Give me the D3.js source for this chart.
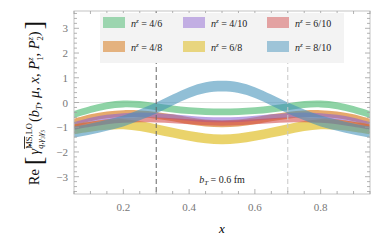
<!DOCTYPE html>
<html>
<head>
<meta charset="utf-8">
<script src="https://cdn.jsdelivr.net/npm/d3@7"></script>
<style>
  body { margin: 0; background: #fff; }
  svg { display: block; font-family: "Liberation Serif", "DejaVu Serif", serif; }
</style>
</head>
<body>
<div id="chart"></div>
<script>
// x grid of the bands
const xs = [0.05, 0.10, 0.15, 0.20, 0.25, 0.30, 0.35, 0.40, 0.45, 0.50,
            0.55, 0.60, 0.65, 0.70, 0.75, 0.80, 0.85, 0.90, 0.95];

const labels = ['4/6', '4/8', '4/10', '6/8', '6/10', '8/10'];
const colors = ['#3cb464', '#d46a00', '#8c62d2', '#dbb300', '#d24a4a', '#4191b9'];

// band centres
const c46  = [-0.48, -0.28, -0.13, -0.06, -0.08, -0.17, -0.26, -0.33, -0.37, -0.38, -0.37, -0.33, -0.26, -0.17, -0.08, -0.06, -0.13, -0.28, -0.48];
const c48  = [-0.80, -0.62, -0.50, -0.45, -0.46, -0.52, -0.62, -0.74, -0.83, -0.86, -0.83, -0.74, -0.62, -0.52, -0.46, -0.45, -0.50, -0.62, -0.80];
const c410 = [-0.90, -0.72, -0.60, -0.53, -0.50, -0.52, -0.58, -0.64, -0.69, -0.70, -0.69, -0.64, -0.58, -0.52, -0.50, -0.53, -0.60, -0.72, -0.90];
const c68  = [-1.08, -0.98, -0.90, -0.88, -0.95, -1.08, -1.22, -1.35, -1.45, -1.49, -1.45, -1.35, -1.22, -1.08, -0.95, -0.88, -0.90, -0.98, -1.08];
const c610 = [-1.00, -0.88, -0.78, -0.72, -0.70, -0.71, -0.74, -0.78, -0.82, -0.84, -0.82, -0.78, -0.74, -0.71, -0.70, -0.72, -0.78, -0.88, -1.00];
const c810 = [-1.20, -1.07, -0.92, -0.75, -0.50, -0.22, 0.10, 0.40, 0.60, 0.66, 0.60, 0.40, 0.10, -0.22, -0.50, -0.75, -0.92, -1.07, -1.20];
const centres = [c46, c48, c410, c68, c610, c810];
// half widths of each band
const halfW = [0.14, 0.14, 0.10, 0.20, 0.10, 0.22];

const xTicks = [0.2, 0.4, 0.6, 0.8];
const yTicks = [-3, -2, -1, 0, 1, 2, 3];
const vlines = [0.3, 0.7];

const W = 382, H = 243;
const pL = 74, pR = 370, pT = 11, pB = 194;

const svg = d3.select('#chart').append('svg')
    .attr('width', W)
    .attr('height', H);

const x = d3.scaleLinear().domain([0.05, 0.95]).range([pL, pR]);
const y = d3.scaleLinear().domain([-3.7, 3.7]).range([pB, pT]);

// zero line
svg.append('line')
    .attr('x1', pL).attr('x2', pR)
    .attr('y1', y(0)).attr('y2', y(0))
    .attr('stroke', '#e4e4e4').attr('stroke-width', 1);

// bands
const area = d3.area()
    .x(d => x(d.x))
    .y0(d => y(d.lo))
    .y1(d => y(d.hi))
    .curve(d3.curveCatmullRom);

centres.forEach((c, i) => {
    const pts = xs.map((xv, j) => ({x: xv, lo: c[j] - halfW[i], hi: c[j] + halfW[i]}));
    svg.append('path')
        .attr('d', area(pts))
        .attr('fill', colors[i])
        .attr('fill-opacity', 0.58);
});

// dashed verticals
svg.selectAll('.vl')
    .data(vlines)
    .enter()
    .append('line')
    .attr('x1', d => x(d)).attr('x2', d => x(d))
    .attr('y1', pT).attr('y2', pB)
    .attr('stroke', (d, i) => i === 0 ? '#666' : '#c8c8c8')
    .attr('stroke-width', 1)
    .attr('stroke-dasharray', '5,3');

// frame
svg.append('rect')
    .attr('x', pL).attr('y', pT)
    .attr('width', pR - pL).attr('height', pB - pT)
    .attr('fill', 'none')
    .attr('stroke', '#c4c4c4');

// ticks on all sides
const tickCol = '#a0a0a0';
const xMinor = d3.range(0.05, 0.951, 0.05);
xMinor.forEach(v => {
    const major = xTicks.some(t => Math.abs(t - v) < 1e-6);
    const len = major ? 5 : 3;
    [[pB, -len], [pT, len]].forEach(([yy, dl]) => {
        svg.append('line')
            .attr('x1', x(v)).attr('x2', x(v))
            .attr('y1', yy).attr('y2', yy + dl)
            .attr('stroke', tickCol).attr('stroke-width', 0.8);
    });
});
const yMinor = d3.range(-3.6, 3.61, 0.2);
yMinor.forEach(v => {
    const major = yTicks.some(t => Math.abs(t - v) < 1e-6);
    const len = major ? 5 : 3;
    [[pL, len], [pR, -len]].forEach(([xx, dl]) => {
        svg.append('line')
            .attr('x1', xx).attr('x2', xx + dl)
            .attr('y1', y(v)).attr('y2', y(v))
            .attr('stroke', tickCol).attr('stroke-width', 0.8);
    });
});

// tick labels
svg.selectAll('.xl')
    .data(xTicks)
    .enter()
    .append('text')
    .attr('x', d => x(d))
    .attr('y', 211)
    .attr('text-anchor', 'middle')
    .attr('font-size', 11)
    .attr('fill', '#777')
    .text(d => d.toFixed(1));

svg.selectAll('.yl')
    .data(yTicks)
    .enter()
    .append('text')
    .attr('x', 68)
    .attr('y', d => y(d) + 4)
    .attr('text-anchor', 'end')
    .attr('font-size', 11)
    .attr('fill', '#777')
    .text(d => d < 0 ? '\u2212' + Math.abs(d) : d);

// axis labels
svg.append('text')
    .attr('x', 222).attr('y', 233)
    .attr('text-anchor', 'middle')
    .attr('font-size', 13)
    .attr('font-style', 'italic')
    .text('x');

// y label: built piece by piece along a rotated group
const ylg = svg.append('g');
let cur = 0;
function piece(txt, opts) {
    const o = Object.assign({size: 14.5, dy: 0, italic: false, advance: true, over: false}, opts);
    const t = ylg.append('text')
        .attr('x', cur).attr('y', o.dy)
        .attr('font-size', o.size)
        .attr('fill', '#111')
        .attr('font-style', o.italic ? 'italic' : 'normal')
        .style('white-space', 'pre')
        .text(txt);
    if (o.over) t.style('text-decoration', 'overline');
    const w = t.node().getComputedTextLength();
    if (o.advance) cur += w;
    return w;
}
piece('Re');
cur += 4;
piece('[', {size: 26, dy: 3});
cur += 2;
piece('\u03B3\u0302', {italic: true});
const start = cur;
let w1 = piece('MS', {size: 8.5, dy: -7, over: true});
w1 += piece(',LO', {size: 8.5, dy: -7});
cur = start;
const w2 = piece('q,\u03B3\u2083\u03B3\u2085', {size: 8.5, dy: 4, italic: true});
cur = start + Math.max(w1, w2) + 1;
piece('(');
piece('b', {italic: true});
piece('T', {size: 8.5, dy: 3, italic: true});
piece(', ');
piece('\u03BC', {italic: true});
piece(', ');
piece('x', {italic: true});
piece(', ');
piece('P', {italic: true});
let s2 = cur;
piece('z', {size: 8.5, dy: -6, italic: true});
cur = s2;
piece('1', {size: 8.5, dy: 4});
piece(', ');
piece('P', {italic: true});
s2 = cur;
piece('z', {size: 8.5, dy: -6, italic: true});
cur = s2;
piece('2', {size: 8.5, dy: 4});
piece(')');
cur += 2;
piece(']', {size: 26, dy: 3});
// centre the label along the axis
ylg.attr('transform', `translate(39,${103 + cur / 2}) rotate(-90)`);

// annotation
const ann = svg.append('text')
    .attr('x', 222).attr('y', 183)
    .attr('text-anchor', 'middle')
    .attr('font-size', 10)
    .attr('fill', '#222');
ann.append('tspan').attr('font-style', 'italic').text('b');
ann.append('tspan').attr('font-size', 7).attr('font-style', 'italic').attr('dy', 2).text('T');
ann.append('tspan').attr('dy', -2).text(' = 0.6 fm');

// legend
const lg = svg.append('g');
lg.append('rect')
    .attr('x', 100).attr('y', 13)
    .attr('width', 244).attr('height', 50)
    .attr('fill', '#f3f3f3');

const colX = [103, 183, 267];
const rowY = [17, 41];
labels.forEach((lab, i) => {
    const cx = colX[Math.floor(i / 2)];
    const cy = rowY[i % 2];
    lg.append('rect')
        .attr('x', cx).attr('y', cy)
        .attr('width', 22).attr('height', 11)
        .attr('fill', colors[i])
        .attr('fill-opacity', 0.48);
    const t = lg.append('text')
        .attr('x', cx + 28).attr('y', cy + 9.5)
        .attr('font-size', 10)
        .attr('fill', '#222');
    t.append('tspan').attr('font-style', 'italic').text('n');
    t.append('tspan').attr('font-size', 7).attr('font-style', 'italic').attr('dy', -4).text('z');
    t.append('tspan').attr('dy', 4).text(' = ' + lab);
});
</script>
</body>
</html>
